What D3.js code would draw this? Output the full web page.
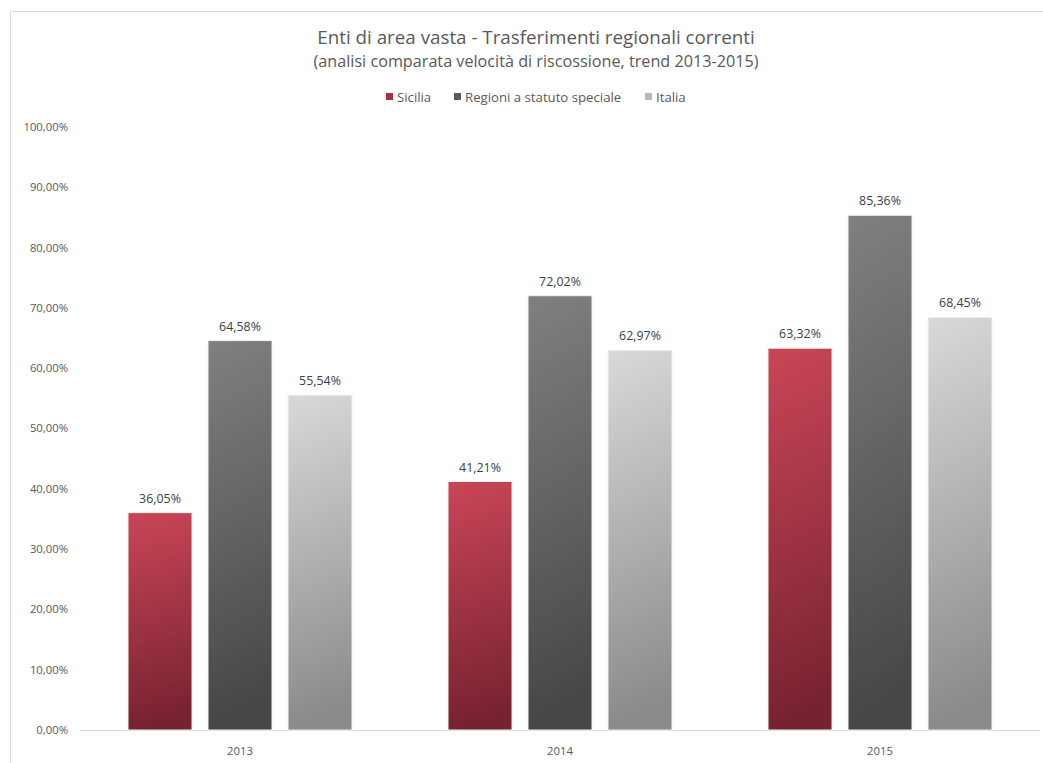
<!DOCTYPE html>
<html><head><meta charset="utf-8">
<script src="https://cdn.jsdelivr.net/npm/d3@7/dist/d3.min.js"></script>
<style>body{margin:0;background:#fff;}svg{display:block;font-family:"Open Sans","Noto Sans",sans-serif;}</style>
</head><body>
<script>
const years = ["2013","2014","2015"];
const seriesNames = ["Sicilia","Regioni a statuto speciale","Italia"];
const sicilia = [36.05, 41.21, 63.32];
const regioni = [64.58, 72.02, 85.36];
const italia = [55.54, 62.97, 68.45];
const yTicks = [0,10,20,30,40,50,60,70,80,90,100];

const W = 1043, H = 763;
const svg = d3.select("body").append("svg").attr("width", W).attr("height", H);
const defs = svg.append("defs");
const grads = [
  {id:"gS", top:"#c94656", bot:"#772231"},
  {id:"gR", top:"#808080", bot:"#464646"},
  {id:"gI", top:"#d9d9d9", bot:"#8a8a8a"}
];
grads.forEach(g => {
  const lg = defs.append("linearGradient").attr("id", g.id).attr("x1","0").attr("y1","0").attr("x2","0.08").attr("y2","1");
  lg.append("stop").attr("offset","0").attr("stop-color", g.top);
  lg.append("stop").attr("offset","1").attr("stop-color", g.bot);
});
const legendCols = ["#a8303f","#5a5a5a","#b8b8b8"];

// chart border
svg.append("path").attr("d","M10.5,763 V11.5 H1043").attr("fill","none").attr("stroke","#d9d9d9").attr("stroke-width",1);

const x0 = d3.scaleBand().domain(years).range([80,1040]);
const x1 = d3.scaleBand().domain(seriesNames).range([48, 272]).paddingInner(0.2);
const y = d3.scaleLinear().domain([0,100]).range([730,127]);

const fmt = v => d3.format(".2f")(v).replace(".", ",") + "%";

// y ticks
svg.append("g").selectAll("text").data(yTicks).join("text")
  .attr("x", 68).attr("y", d => y(d)).attr("dy","0.35em").attr("text-anchor","end")
  .attr("font-size", 11.3).attr("fill","#595959").text(d => fmt(d));

// baseline
svg.append("line").attr("x1",80).attr("x2",1040).attr("y1",y(0)+0.5).attr("y2",y(0)+0.5).attr("stroke","#d9d9d9");

const data = [sicilia, regioni, italia];
years.forEach((yr, i) => {
  const g = svg.append("g").attr("transform", `translate(${x0(yr)},0)`);
  seriesNames.forEach((s, j) => {
    const v = data[j][i];
    g.append("rect").attr("x", x1(s)).attr("width", x1.bandwidth())
      .attr("y", y(v)).attr("height", y(0)-y(v))
      .attr("fill", `url(#${grads[j].id})`).attr("stroke","#f2f2f2").attr("stroke-width",1);
    g.append("text").attr("x", x1(s)+x1.bandwidth()/2).attr("y", y(v)-10)
      .attr("text-anchor","middle").attr("font-size",12.4).attr("fill","#404040").text(fmt(v));
  });
  svg.append("text").attr("x", x0(yr)+x0.bandwidth()/2).attr("y", 755).attr("text-anchor","middle")
    .attr("font-size",11.3).attr("fill","#595959").text(yr);
});

// titles
svg.append("text").attr("x",536).attr("y",44).attr("text-anchor","middle").attr("font-size",18.8).attr("fill","#595959").text("Enti di area vasta - Trasferimenti regionali correnti");
svg.append("text").attr("x",536).attr("y",67).attr("text-anchor","middle").attr("font-size",16.2).attr("fill","#595959").text("(analisi comparata velocità di riscossione, trend 2013-2015)");

// legend
const legX = [386, 454, 645];
seriesNames.forEach((s, j) => {
  svg.append("rect").attr("x", legX[j]).attr("y", 93).attr("width",7).attr("height",7).attr("fill", legendCols[j]);
  svg.append("text").attr("x", legX[j]+11).attr("y", 101.5).attr("font-size",13.2).attr("fill","#595959").text(s);
});
</script>
</body></html>
